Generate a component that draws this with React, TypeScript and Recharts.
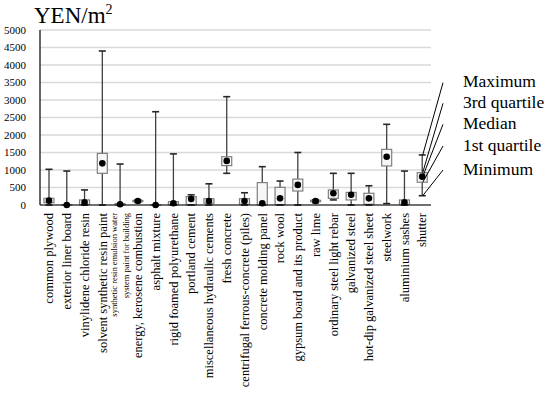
import React from 'react';
import { ComposedChart, Bar, XAxis, YAxis, CartesianGrid } from 'recharts';

// Unit cost distribution per material (YEN/m2)
const categories = [
  'common plywood',
  'exterior liner board',
  'vinylidene chloride resin',
  'solvent synthetic resin paint',
  'synthetic resin emulsion water\nsystem paint for building',
  'energy, kerosene combustion',
  'asphalt mixture',
  'rigid foamed polyurethane',
  'portland cement',
  'miscellaneous hydraulic cements',
  'fresh concrete',
  'centrifugal ferrous-concrete (piles)',
  'concrete molding panel',
  'rock wool',
  'gypsum board and its product',
  'raw lime',
  'ordinary steel light rebar',
  'galvanized steel',
  'hot-dip galvanized steel sheet',
  'steelwork',
  'aluminium sashes',
  'shutter',
];

const minVals = [0, 0, 0, 0, 0, 75, 0, 0, 0, 0, 905, 0, 0, 0, 0, 65, 145, 0, 0, 40, 0, 265];
const q1Vals = [65, 0, 10, 905, 0, 95, 0, 10, 10, 50, 1125, 20, 0, 10, 400, 95, 190, 145, 20, 1115, 20, 650];
const medianVals = [125, 0, 75, 1190, 20, 115, 0, 50, 170, 115, 1260, 115, 50, 190, 575, 115, 335, 295, 190, 1380, 75, 810];
const q3Vals = [190, 10, 145, 1475, 40, 130, 5, 95, 240, 180, 1380, 180, 640, 505, 740, 135, 430, 360, 335, 1590, 145, 925];
const maxVals = [1020, 970, 430, 4400, 1170, 145, 2665, 1460, 290, 605, 3095, 350, 1095, 685, 1500, 145, 905, 905, 550, 2305, 970, 1430];

const yTicks = [0, 500, 1000, 1500, 2000, 2500, 3000, 3500, 4000, 4500, 5000];

const legendLabels = ['Maximum', '3rd quartile', 'Median', '1st quartile', 'Minimum'];

const FONT = "'Liberation Serif', 'Times New Roman', serif";

const rows = categories.map((name, i) => ({
  name,
  min: minVals[i],
  q1: q1Vals[i],
  median: medianVals[i],
  q3: q3Vals[i],
  max: maxVals[i],
  range: [minVals[i], maxVals[i]],
}));

const XTick = ({ x, y, payload }: any) => {
  const lines = String(payload.value).split('\n');
  if (lines.length === 1) {
    return (
      <g transform={`translate(${x},${y})`}>
        <text transform="rotate(-90)" textAnchor="end" dy="0.35em" fontSize={12.5} style={{ fontFamily: FONT }} fill="#000">
          {lines[0]}
        </text>
      </g>
    );
  }
  return (
    <g transform={`translate(${x},${y})`}>
      {lines.map((l, i) => (
        <text key={i} transform="rotate(-90)" textAnchor="end" y={i === 0 ? -5.5 : 5.7} dy="0.35em" fontSize={8.5} style={{ fontFamily: FONT }} fill="#000">
          {l}
        </text>
      ))}
    </g>
  );
};

const YTick = ({ x, y, payload }: any) => (
  <text x={x - 6} y={y} dy="0.35em" textAnchor="end" fontSize={11} style={{ fontFamily: FONT }} fill="#000">
    {payload.value}
  </text>
);

// legend anchor points (where the pointer lines start, right of the plot)
const anchorX = 443;
const anchorYs = [82.7, 103.3, 124.3, 146, 170];

const BoxShape = (props: any) => {
  const { x, y, width, height, payload, index } = props;
  const top = Math.min(y, y + height);
  const bottom = Math.max(y, y + height);
  const span = payload.max - payload.min;
  const toPx = (v: number) => (span === 0 ? bottom : bottom - ((v - payload.min) / span) * (bottom - top));
  const cx = x + width / 2;
  const boxTop = toPx(payload.q3);
  const boxBottom = toPx(payload.q1);
  const med = toPx(payload.median);
  const isLast = index === categories.length - 1;
  const targets = [top, boxTop, med, boxBottom, bottom];
  return (
    <g>
      <line x1={cx} x2={cx} y1={top} y2={bottom} stroke="#404040" strokeWidth={1.3} />
      <rect x={cx - 5} y={boxTop} width={10} height={Math.max(boxBottom - boxTop, 0.5)} fill="#f7f7f7" stroke="#7f7f7f" strokeWidth={1.2} />
      <line x1={cx - 3.5} x2={cx + 3.5} y1={top} y2={top} stroke="#262626" strokeWidth={1.6} />
      <line x1={cx - 3.5} x2={cx + 3.5} y1={bottom} y2={bottom} stroke="#262626" strokeWidth={1.6} />
      <circle cx={cx} cy={med} r={3.3} fill="#000" />
      {isLast &&
        targets.map((t, i) => (
          <line key={i} x1={cx + 0.5} y1={t} x2={anchorX} y2={anchorYs[i]} stroke="#000" strokeWidth={1} />
        ))}
    </g>
  );
};

export default function App() {
  return (
    <div style={{ position: 'absolute', left: 0, top: 0, width: 550, height: 396, background: '#fff' }}>
      <ComposedChart width={550} height={396} data={rows} margin={{ top: 30, right: 119, bottom: 6, left: 0 }}>
        <CartesianGrid vertical={false} stroke="#d9d9d9" strokeWidth={1.5} />
        <XAxis dataKey="name" interval={0} height={185} tick={<XTick />} tickLine={false} axisLine={{ stroke: '#000', strokeWidth: 1.2 }} />
        <XAxis xAxisId="top" dataKey="name" orientation="top" height={0} tick={false} tickLine={false} axisLine={{ stroke: '#000', strokeWidth: 1.2 }} />
        <YAxis domain={[0, 5000]} ticks={yTicks} interval={0} width={40} tick={<YTick />} tickLine={false} axisLine={{ stroke: '#000', strokeWidth: 1.2 }} />
        <YAxis yAxisId="right" orientation="right" domain={[0, 5000]} width={0} tick={false} tickLine={false} axisLine={{ stroke: '#000', strokeWidth: 1.2 }} />
        <Bar dataKey="range" barSize={10} shape={<BoxShape />} isAnimationActive={false} />
      </ComposedChart>
      <svg width={550} height={396} style={{ position: 'absolute', left: 0, top: 0, pointerEvents: 'none' }}>
        <text x={34} y={23} fontSize={23} style={{ fontFamily: FONT }} fill="#000">
          YEN/m<tspan fontSize={14} dy={-9}>2</tspan>
        </text>
        {legendLabels.map((l, i) => (
          <text key={l} x={463} y={[87, 108.3, 128.5, 150.7, 174.5][i]} fontSize={17.5} style={{ fontFamily: FONT }} fill="#000">
            {l}
          </text>
        ))}
      </svg>
    </div>
  );
}
